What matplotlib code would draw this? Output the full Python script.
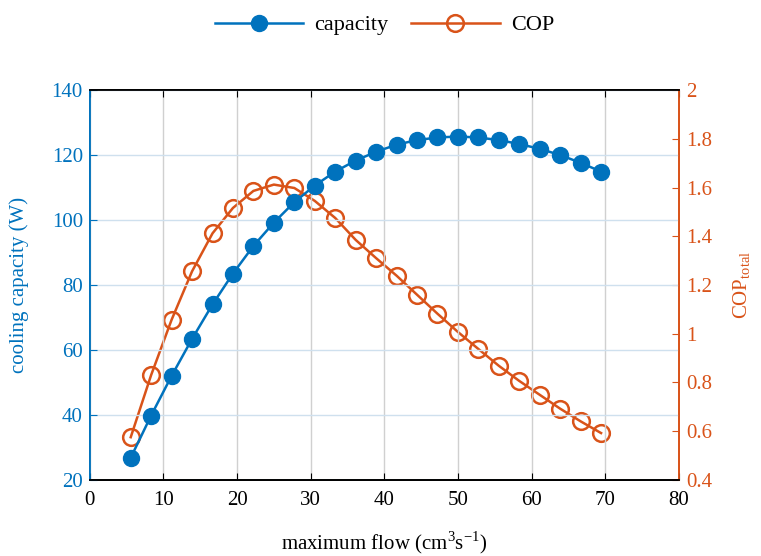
import matplotlib.pyplot as plt

plt.rcParams['font.family'] = ['Liberation Serif', 'DejaVu Serif']
plt.rcParams['mathtext.fontset'] = 'custom'
plt.rcParams['mathtext.rm'] = 'Liberation Serif'

blue = '#0072BD'
orange = '#D95319'

flow = [5.56, 8.33, 11.11, 13.89, 16.67, 19.44, 22.22, 25.00, 27.78, 30.56,
        33.33, 36.11, 38.89, 41.67, 44.44, 47.22, 50.00, 52.78, 55.56, 58.33,
        61.11, 63.89, 66.67, 69.44]
capacity = [26.8, 39.8, 52.0, 63.4, 74.0, 83.5, 92.0, 99.2, 105.5, 110.6,
            114.9, 118.3, 121.0, 123.2, 124.6, 125.4, 125.7, 125.4, 124.6, 123.4,
            121.9, 120.0, 117.6, 114.9]
cop = [0.575, 0.83, 1.057, 1.256, 1.412, 1.516, 1.586, 1.612, 1.598, 1.545,
       1.475, 1.385, 1.31, 1.238, 1.16, 1.082, 1.007, 0.937, 0.868, 0.806,
       0.749, 0.692, 0.64, 0.592]

fig = plt.figure(figsize=(7.61, 5.56), dpi=100)
ax = fig.add_axes([0.118, 0.137, 0.774, 0.701])
ax2 = ax.twinx()

ax.set_zorder(ax2.get_zorder() + 1)
ax.patch.set_visible(False)

l1, = ax.plot(flow, capacity, '-o', color=blue, lw=1.8, ms=11.5,
              mfc=blue, mec=blue, label='capacity')
l2, = ax2.plot(flow, cop, '-o', color=orange, lw=1.8, ms=12,
               mfc='none', mec=orange, mew=1.8, label='COP')

ax.set_xlim(0, 80)
ax.set_ylim(20, 140)
ax2.set_ylim(0.4, 2.0)
ax.set_xticks(range(0, 81, 10))
ax.set_yticks(range(20, 141, 20))
ax2.set_yticks([0.4, 0.6, 0.8, 1.0, 1.2, 1.4, 1.6, 1.8, 2.0])
ax2.set_yticklabels(['0.4', '0.6', '0.8', '1', '1.2', '1.4', '1.6', '1.8', '2'])

ax.xaxis.grid(True, color='#d0d0d0', lw=1)
ax.yaxis.grid(True, color='#cfe0ee', lw=1)
ax.set_axisbelow(True)

ax.tick_params(axis='x', direction='in', top=True, length=5, labelsize=15, pad=8)
ax.tick_params(axis='y', direction='in', colors=blue, length=5, labelsize=15, pad=5)
ax2.tick_params(axis='y', direction='in', colors=orange, length=5, labelsize=15, pad=5)

for a in (ax, ax2):
    a.spines['left'].set_color(blue)
    a.spines['right'].set_color(orange)
    a.spines['top'].set_color('black')
    a.spines['bottom'].set_color('black')
    for s in a.spines.values():
        s.set_linewidth(1.3)

ax.set_xlabel('maximum flow (cm$^3$s$^{-1}$)', fontsize=15, labelpad=14)
ax.set_ylabel('cooling capacity (W)', fontsize=15, color=blue, labelpad=16)
ax2.set_ylabel('COP$_{\\mathrm{total}}$', fontsize=15, color=orange, labelpad=14)

fig.legend(handles=[l1, l2], loc='center', bbox_to_anchor=(0.505, 0.955), ncol=2,
           frameon=False, fontsize=16, handlelength=4, columnspacing=1.0,
           handletextpad=0.5)

fig.savefig('out.png', dpi=100)
